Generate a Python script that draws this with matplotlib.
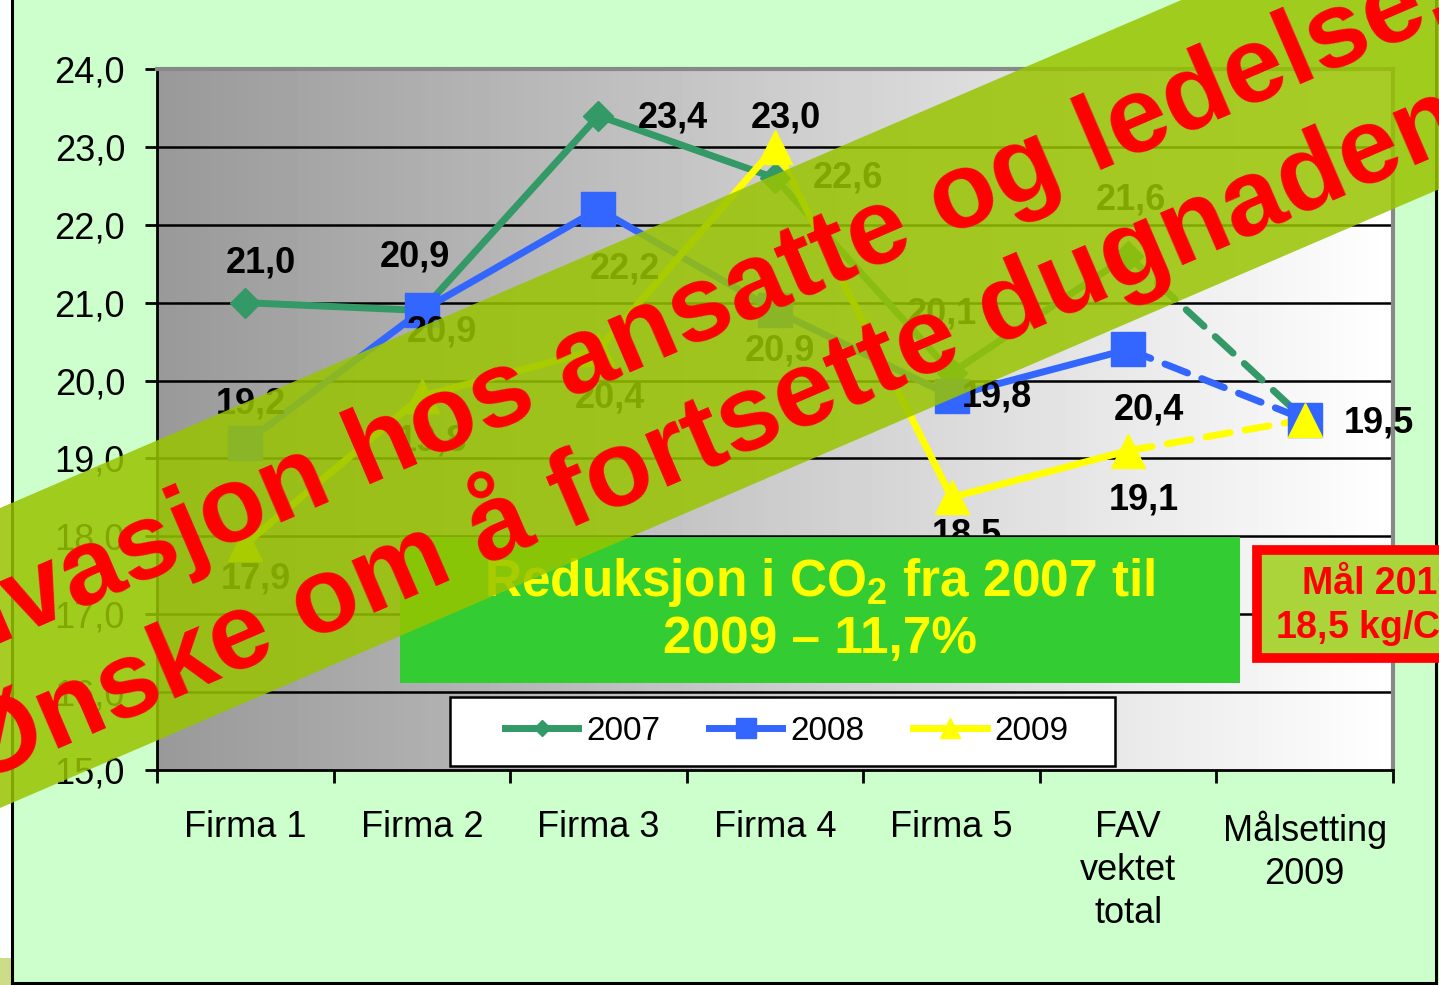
import numpy as np
import matplotlib.pyplot as plt
from matplotlib.patches import Rectangle, Polygon
from matplotlib.lines import Line2D

plt.rcParams['font.family'] = ['Liberation Sans', 'DejaVu Sans']
plt.rcParams['mathtext.fontset'] = 'custom'
plt.rcParams['mathtext.rm'] = 'Liberation Sans:bold'
plt.rcParams['mathtext.it'] = 'Liberation Sans:bold'
plt.rcParams['mathtext.bf'] = 'Liberation Sans:bold'

# data
categories = ['Firma 1', 'Firma 2', 'Firma 3', 'Firma 4', 'Firma 5',
              'FAV\nvektet\ntotal', 'Målsetting\n2009']
years = ['2007', '2008', '2009']
v2007 = [21.0, 20.9, 23.4, 22.6, 20.1, 21.6, 19.5]
v2008 = [19.2, 20.9, 22.2, 20.9, 19.8, 20.4, 19.5]
v2009 = [17.9, 19.8, 20.4, 23.0, 18.5, 19.1, 19.5]
yticks = [15, 16, 17, 18, 19, 20, 21, 22, 23, 24]

box_text = 'Reduksjon i CO$_2$ fra 2007 til\n2009 – 11,7%'
goal_text = 'Mål 2010\n18,5 kg/CO$_2$'
banner_text = ['Motivasjon hos ansatte og ledelse.', 'Ønske om å fortsette dugnaden']

# label offsets in screen pixels, y down (None = no label)
off2007 = [(16, -40), (-7, -53), (74, 2), (73, 0), (-10, -59), (3, -56), None]
off2008 = [(6, -39), (20, 22), (27, 60), (5, 41), (45, 1), (21, 61), (74, 3)]
off2009 = [(11, 35), (10, 45), (12, 49), (11, -29), (15, 38), (16, 49), None]

W, H = 1439, 985


def fx(x):
    return x / W


def fy(y):
    return 1 - y / H


fig = plt.figure(figsize=(W / 100, H / 100), dpi=100)
fig.patch.set_facecolor('#CCFFCC')

ax = fig.add_axes([fx(157), fy(770), (1393 - 157) / W, (770 - 69) / H])
x = np.arange(len(categories))

grad = np.linspace(0.6, 1.0, 256).reshape(1, -1)
ax.imshow(grad, extent=[-0.5, 6.5, 15, 24], aspect='auto', cmap='gray',
          vmin=0, vmax=1, zorder=0)
for g in yticks[1:-1]:
    ax.axhline(g, color='black', lw=1.8, zorder=1)

series = [
    (v2007, '#339966', 'D', 15, off2007),
    (v2008, '#3366FF', 's', 24, off2008),
    (v2009, '#FFFF00', '^', 24, off2009),
]
for vals, col, mk, ms, offs in series:
    ax.plot(x[:6], vals[:6], color=col, lw=5, zorder=3, solid_joinstyle='miter')
    ax.plot(x[5:], vals[5:], color=col, lw=5, ls=(0, (3.5, 2.2)),
            dash_capstyle='round', zorder=3)
    ax.plot(x, vals, ls='none', marker=mk, ms=ms, color=col, zorder=4)
    for i, (v, o) in enumerate(zip(vals, offs)):
        if o is None:
            continue
        ax.annotate(f'{v:.1f}'.replace('.', ','), (x[i], v), xytext=(o[0], -o[1]),
                    textcoords='offset pixels', ha='center', va='center',
                    fontsize=26, fontweight='bold', color='black', zorder=5)

ax.set_xlim(-0.5, 6.5)
ax.set_ylim(15, 24)
ax.set_yticks(yticks)
ax.set_yticklabels([f'{t:.1f}'.replace('.', ',') for t in yticks], fontsize=26)
ax.set_xticks(x)
ax.set_xticklabels(categories, fontsize=26, linespacing=1.3)
ax.set_xticks(np.arange(-0.5, 7, 1), minor=True)
ax.tick_params(axis='x', which='major', length=0, pad=29)
ax.tick_params(axis='x', which='minor', length=9, width=2, direction='out')
ax.tick_params(axis='y', length=9, width=2, direction='out', pad=14)
for s in ['left', 'bottom']:
    ax.spines[s].set_linewidth(2)
    ax.spines[s].set_color('black')
for s in ['top', 'right']:
    ax.spines[s].set_linewidth(3)
    ax.spines[s].set_color('#888888')

# outer frame
fig.add_artist(Rectangle((0, 0), fx(11), 1, transform=fig.transFigure,
                         facecolor='white', edgecolor='none', zorder=2))
fig.add_artist(Rectangle((0, 0), fx(11), fy(958), transform=fig.transFigure,
                         facecolor='#CCDD88', edgecolor='none', zorder=2))
for xs, ys in [([fx(12), fx(12)], [fy(0), fy(983)]),
               ([fx(12), fx(1436)], [fy(983), fy(983)]),
               ([fx(1436), fx(1436)], [fy(0), fy(983)])]:
    fig.add_artist(Line2D(xs, ys, color='black', lw=2.2, zorder=2))

# green info box
fig.add_artist(Rectangle((fx(400), fy(683)), fx(1240) - fx(400), fy(537) - fy(683),
                         transform=fig.transFigure, facecolor='#33CC33',
                         edgecolor='none', zorder=5))
fig.text(fx(820), fy(610), box_text, ha='center', va='center', color='#FFFF00',
         fontsize=37, fontweight='bold', linespacing=1.15, zorder=6)

# goal box
fig.add_artist(Rectangle((fx(1257), fy(658)), fx(1520) - fx(1257), fy(550) - fy(658),
                         transform=fig.transFigure, facecolor='#AAD43A',
                         edgecolor='#FF0000', lw=7, zorder=5))
fig.text(fx(1380), fy(607), goal_text, ha='center', va='center', color='#FF0000',
         fontsize=27, fontweight='bold', linespacing=1.2, zorder=6)

# legend
fig.add_artist(Rectangle((fx(450), fy(766)), fx(1115) - fx(450), fy(697) - fy(766),
                         transform=fig.transFigure, facecolor='white',
                         edgecolor='black', lw=1.8, zorder=5))
handles = [Line2D([], [], color=c, lw=5, marker=m, ms=s)
           for c, m, s in [('#339966', 'D', 8), ('#3366FF', 's', 14), ('#FFFF00', '^', 15)]]
leg = fig.legend(handles, years, loc='center', bbox_to_anchor=(fx(787), fy(731)),
                 ncol=3, frameon=False, fontsize=24, handlelength=2.2,
                 handletextpad=0.25, columnspacing=1.45)
leg.set_zorder(6)

# banner
slope = 0.43
ang = np.degrees(np.arctan(slope))
band = [(0, 808), (W, 808 - slope * W), (W, 508 - slope * W), (0, 508)]
fig.add_artist(Polygon([(fx(a), fy(b)) for a, b in band], closed=True,
                       transform=fig.transFigure, facecolor='#99C400',
                       edgecolor='none', alpha=0.85, zorder=7))
d = np.array([np.cos(np.radians(ang)), -np.sin(np.radians(ang))])
perp = np.array([-np.sin(np.radians(ang)), -np.cos(np.radians(ang))])
base2 = np.array([711, 468]) + 12 * d
base1 = base2 + 120 * perp - 40 * d
for txt, p in zip(banner_text, [base1, base2]):
    fig.text(fx(p[0]), fy(p[1]), txt, ha='center', va='baseline', rotation=ang,
             rotation_mode='anchor', color='#FF0000', fontsize=78,
             fontweight='bold', zorder=8)

fig.savefig('out.png', dpi=100, facecolor=fig.get_facecolor())
